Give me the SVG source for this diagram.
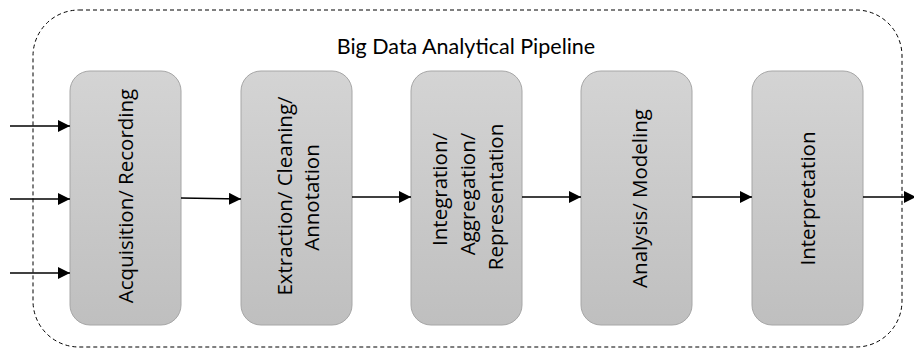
<svg xmlns="http://www.w3.org/2000/svg" width="914" height="350" viewBox="0 0 914 350">
<style>
.box{fill:url(#g);stroke:#a6a6a6;stroke-width:1}
.lbl{font-family:"Open Sans","Noto Sans",sans-serif;font-size:20.5px;fill:#000;text-anchor:middle}
.title{font-family:Lato,"Open Sans",sans-serif;font-size:21.5px;fill:#000;text-anchor:middle}
.c{stroke:#000;stroke-width:1.5;fill:none;marker-end:url(#ah)}
</style>
<defs>
<linearGradient id="g" x1="0" y1="0" x2="0" y2="1">
<stop offset="0" stop-color="#d4d4d4"/>
<stop offset="1" stop-color="#bfbfbf"/>
</linearGradient>
<marker id="ah" markerWidth="12" markerHeight="12" refX="12" refY="6" orient="auto" markerUnits="userSpaceOnUse">
<path d="M0,0 L12,6 L0,12 Z" fill="#000"/>
</marker>
</defs>
<g id="pipeline">
<rect x="33" y="10" width="869" height="337" rx="46" ry="46" fill="none" stroke="#000" stroke-width="1" stroke-dasharray="4 3"/>
<text class="title" x="466" y="54">Big Data Analytical Pipeline</text>
</g>
<g id="n1">
<rect class="box" x="70" y="71" width="111" height="254" rx="20" ry="20"/>
<text class="lbl" transform="translate(133,196) rotate(-90)" x="0" y="0">Acquisition/ Recording</text>
</g>
<g id="n2">
<rect class="box" x="241" y="71" width="111" height="254" rx="20" ry="20"/>
<text class="lbl" transform="translate(292,196) rotate(-90)" x="0" y="0">Extraction/ Cleaning/</text>
<text class="lbl" transform="translate(319,197.5) rotate(-90)" x="0" y="0">Annotation</text>
</g>
<g id="n3">
<rect class="box" x="411" y="71" width="111" height="254" rx="20" ry="20"/>
<text class="lbl" transform="translate(447,189.5) rotate(-90)" x="0" y="0">Integration/</text>
<text class="lbl" transform="translate(475,194) rotate(-90)" x="0" y="0">Aggregation/</text>
<text class="lbl" transform="translate(503,197) rotate(-90)" x="0" y="0">Representation</text>
</g>
<g id="n4">
<rect class="box" x="581" y="71" width="111" height="254" rx="20" ry="20"/>
<text class="lbl" transform="translate(647,198.5) rotate(-90)" x="0" y="0">Analysis/ Modeling</text>
</g>
<g id="n5">
<rect class="box" x="752" y="71" width="111" height="254" rx="20" ry="20"/>
<text class="lbl" transform="translate(815,198.5) rotate(-90)" x="0" y="0">Interpretation</text>
</g>
<g id="connectors">
<line class="c" x1="10" y1="126" x2="70" y2="126"/>
<line class="c" x1="10" y1="199" x2="70" y2="199"/>
<line class="c" x1="10" y1="273" x2="70" y2="273"/>
<line class="c" x1="181" y1="198" x2="241" y2="199"/>
<line class="c" x1="352" y1="197" x2="411" y2="197"/>
<line class="c" x1="522" y1="197" x2="581" y2="197"/>
<line class="c" x1="692" y1="197" x2="752" y2="197"/>
<line class="c" x1="863" y1="197" x2="916" y2="197"/>
</g>
</svg>
